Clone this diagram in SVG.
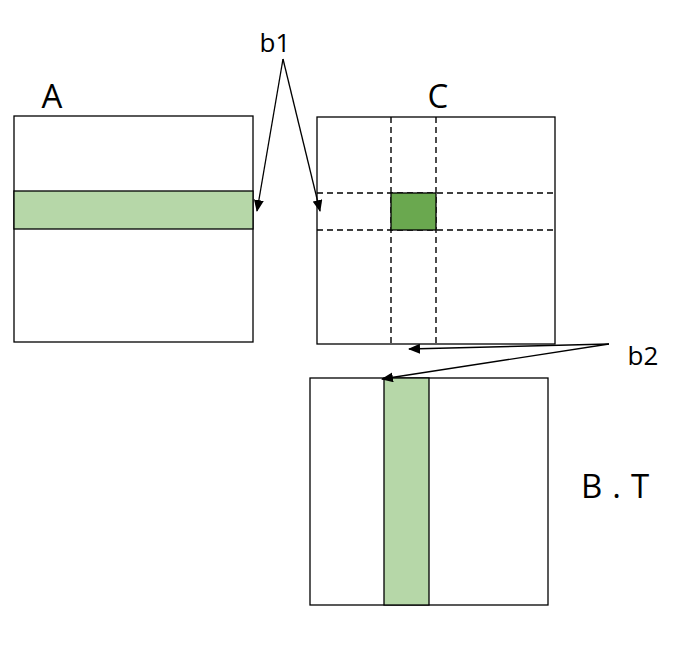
<svg xmlns="http://www.w3.org/2000/svg" width="691" height="645" viewBox="0 0 691 645">
<defs>
<style>
.box{fill:#fff;stroke:#000;stroke-width:1.3}
.band{fill:#b6d7a8;stroke:#000;stroke-width:1.3}
.cell{fill:#6aa84f;stroke:#000;stroke-width:1.3}
.dash{stroke:#000;stroke-width:1.4;stroke-dasharray:6,4;fill:none}
.lbl{font-family:"Open Sans","Liberation Sans",sans-serif;fill:#000}
.conn{stroke:#000;stroke-width:1.3;fill:none;marker-end:url(#ah)}
</style>
<marker id="ah" markerWidth="12" markerHeight="10" refX="11" refY="5" orient="auto" markerUnits="userSpaceOnUse">
<path d="M0,0 L12,5 L0,10 z" fill="#000"/>
</marker>
</defs>
<rect width="691" height="645" fill="#fff"/>
<g id="A">
<rect class="box" x="14" y="116" width="239" height="226"/>
<rect class="band" x="14" y="191" width="239" height="38"/>
<text class="lbl" x="52" y="108" font-size="33" text-anchor="middle">A</text>
</g>
<g id="C">
<rect class="box" x="317" y="117" width="238" height="227"/>
<line class="dash" x1="391" y1="117" x2="391" y2="344"/>
<line class="dash" x1="436" y1="117" x2="436" y2="344"/>
<line class="dash" x1="317" y1="193" x2="555" y2="193"/>
<line class="dash" x1="317" y1="230" x2="555" y2="230"/>
<rect class="cell" x="391" y="193" width="45" height="37"/>
<text class="lbl" x="438" y="108" font-size="33" text-anchor="middle">C</text>
</g>
<g id="BT">
<rect class="box" x="310" y="378" width="238" height="227"/>
<rect class="band" x="384" y="378" width="45" height="227"/>
<text class="lbl" x="620" y="498" font-size="33" text-anchor="middle" letter-spacing="10">B.T</text>
</g>
<g id="b1">
<text class="lbl" x="275" y="52" font-size="26" text-anchor="middle">b1</text>
</g>
<g id="b2">
<text class="lbl" x="643" y="365" font-size="26" text-anchor="middle">b2</text>
</g>
<g id="connectors">
<line class="conn" x1="283" y1="59" x2="257" y2="211"/>
<line class="conn" x1="283" y1="59" x2="320" y2="211"/>
<line class="conn" x1="609" y1="344" x2="409" y2="349"/>
<line class="conn" x1="609" y1="344" x2="382" y2="379"/>
</g>
</svg>
